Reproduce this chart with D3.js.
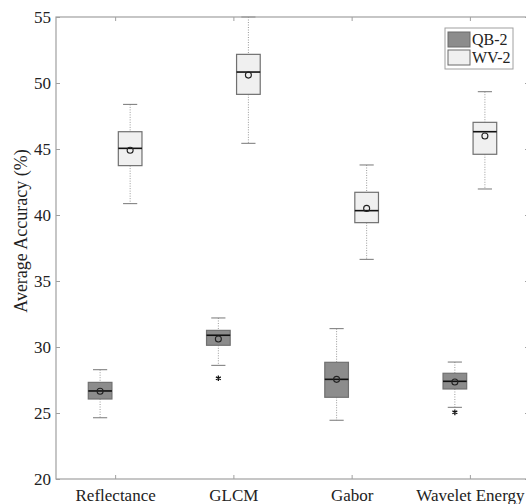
<!DOCTYPE html>
<html>
<head>
<meta charset="utf-8">
<script src="https://cdn.jsdelivr.net/npm/d3@7"></script>
<style>
body { margin: 0; background: #fff; }
svg text { font-family: "Liberation Serif", "Times New Roman", serif; fill: #222; }
</style>
</head>
<body>
<svg></svg>
<script>
var width = 526, height = 504;
var margin = {top: 17, right: -3, bottom: 25, left: 56};

var categories = ["Reflectance", "GLCM", "Gabor", "Wavelet Energy"];
var seriesNames = ["QB-2", "WV-2"];
var seriesFill = ["#8c8c8c", "#f0f0f0"];

// QB-2 box stats per category
var qbLow = [24.64, 28.61, 24.45, 25.43];
var qbQ1 = [26.06, 30.13, 26.19, 26.82];
var qbMed = [26.67, 30.89, 27.55, 27.40];
var qbQ3 = [27.32, 31.26, 28.84, 28.01];
var qbHigh = [28.28, 32.20, 31.39, 28.86];
var qbMean = [26.65, 30.61, 27.55, 27.35];
var qbOut = [[], [27.63], [], [25.05]];

// WV-2 box stats per category
var wvLow = [40.86, 45.43, 36.64, 41.97];
var wvQ1 = [43.74, 49.14, 39.42, 44.60];
var wvMed = [45.05, 50.83, 40.33, 46.31];
var wvQ3 = [46.31, 52.17, 41.72, 47.02];
var wvHigh = [48.38, 55.00, 43.79, 49.34];
var wvMean = [44.90, 50.60, 40.50, 45.98];
var wvOut = [[], [], [], []];

var yTicks = [20, 25, 30, 35, 40, 45, 50, 55];

var svg = d3.select("svg").attr("width", width).attr("height", height);
var iw = width - margin.left - margin.right,
    ih = height - margin.top - margin.bottom;
var g = svg.append("g").attr("transform", "translate(" + margin.left + "," + margin.top + ")");

var x = d3.scaleLinear().domain([0.5, 4.5]).range([0, iw]);
var y = d3.scaleLinear().domain([20, 55]).range([ih, 0]);

var boxes = [];
categories.forEach(function(c, i) {
    boxes.push({s: 0, i: i, lo: qbLow[i], q1: qbQ1[i], med: qbMed[i], q3: qbQ3[i], hi: qbHigh[i], mean: qbMean[i], out: qbOut[i]});
    boxes.push({s: 1, i: i, lo: wvLow[i], q1: wvQ1[i], med: wvMed[i], q3: wvQ3[i], hi: wvHigh[i], mean: wvMean[i], out: wvOut[i]});
});
var offset = 0.127, bw = 0.2, cap = 0.12;
function cx(d) { return x(d.i + 1 + (d.s === 0 ? -offset : offset)); }
var bwPx = x(bw) - x(0), capPx = x(cap) - x(0);

var bg = g.selectAll(".box").data(boxes).enter().append("g").attr("class", "box");

// whiskers
bg.append("line")
    .attr("x1", cx).attr("x2", cx)
    .attr("y1", function(d) { return y(d.hi); })
    .attr("y2", function(d) { return y(d.q3); })
    .attr("stroke", "#999").attr("stroke-dasharray", "1,1.5");
bg.append("line")
    .attr("x1", cx).attr("x2", cx)
    .attr("y1", function(d) { return y(d.q1); })
    .attr("y2", function(d) { return y(d.lo); })
    .attr("stroke", "#999").attr("stroke-dasharray", "1,1.5");
["hi", "lo"].forEach(function(k) {
    bg.append("line")
        .attr("x1", function(d) { return cx(d) - capPx / 2; })
        .attr("x2", function(d) { return cx(d) + capPx / 2; })
        .attr("y1", function(d) { return y(d[k]); })
        .attr("y2", function(d) { return y(d[k]); })
        .attr("stroke", "#777").attr("stroke-width", 1);
});

bg.append("rect")
    .attr("x", function(d) { return cx(d) - bwPx / 2; })
    .attr("width", bwPx)
    .attr("y", function(d) { return y(d.q3); })
    .attr("height", function(d) { return y(d.q1) - y(d.q3); })
    .attr("fill", function(d) { return seriesFill[d.s]; })
    .attr("stroke", "#707070").attr("stroke-width", 1.2);

bg.append("line")
    .attr("x1", function(d) { return cx(d) - bwPx / 2; })
    .attr("x2", function(d) { return cx(d) + bwPx / 2; })
    .attr("y1", function(d) { return y(d.med); })
    .attr("y2", function(d) { return y(d.med); })
    .attr("stroke", "#111").attr("stroke-width", 1.6);

bg.append("circle")
    .attr("cx", cx)
    .attr("cy", function(d) { return y(d.mean); })
    .attr("r", 3)
    .attr("fill", "none").attr("stroke", "#222").attr("stroke-width", 1.1);

var star = d3.symbol().type(d3.symbolAsterisk).size(22);
bg.each(function(d) {
    d3.select(this).selectAll(".out").data(d.out).enter().append("path")
        .attr("class", "out")
        .attr("transform", function(v) { return "translate(" + cx(d) + "," + y(v) + ")"; })
        .attr("d", star)
        .attr("stroke", "#111").attr("stroke-width", 1.3);
});

// frame
g.append("rect").attr("x", 0).attr("y", 0).attr("width", iw).attr("height", ih)
    .attr("fill", "none").attr("stroke", "#a0a0a0").attr("stroke-width", 1.2);

var yAxis = g.append("g")
    .call(d3.axisLeft(y).tickValues(yTicks).tickSize(-4).tickPadding(5).tickFormat(d3.format("d")));
yAxis.select(".domain").remove();
yAxis.selectAll("line").attr("stroke", "#a0a0a0");
yAxis.selectAll("text").style("font-size", "17px").attr("fill", "#222");

var yAxisR = g.append("g").attr("transform", "translate(" + iw + ",0)")
    .call(d3.axisRight(y).tickValues(yTicks).tickSize(-4).tickFormat(""));
yAxisR.select(".domain").remove();
yAxisR.selectAll("line").attr("stroke", "#a0a0a0");

var xAxis = g.append("g").attr("transform", "translate(0," + ih + ")")
    .call(d3.axisBottom(x).tickValues([1, 2, 3, 4]).tickSize(-4).tickPadding(10)
        .tickFormat(function(d) { return categories[d - 1]; }));
xAxis.select(".domain").remove();
xAxis.selectAll("line").attr("stroke", "#a0a0a0");
xAxis.selectAll("text").style("font-size", "17px").attr("fill", "#222");

var xAxisT = g.append("g")
    .call(d3.axisTop(x).tickValues([1, 2, 3, 4]).tickSize(-4).tickFormat(""));
xAxisT.select(".domain").remove();
xAxisT.selectAll("line").attr("stroke", "#a0a0a0");

svg.append("text")
    .attr("transform", "translate(27,231) rotate(-90)")
    .attr("text-anchor", "middle")
    .style("font-size", "18px")
    .text("Average Accuracy (%)");

// legend
var lg = svg.append("g").attr("transform", "translate(445,28)");
lg.append("rect").attr("width", 68).attr("height", 41)
    .attr("fill", "#fff").attr("stroke", "#a0a0a0");
seriesNames.forEach(function(n, i) {
    lg.append("rect").attr("x", 3).attr("y", 4 + i * 18).attr("width", 22).attr("height", 15)
        .attr("fill", seriesFill[i]).attr("stroke", "#6a6a6a");
    lg.append("text").attr("x", 27).attr("y", 17 + i * 18)
        .style("font-size", "16px").text(n);
});
</script>
</body>
</html>
